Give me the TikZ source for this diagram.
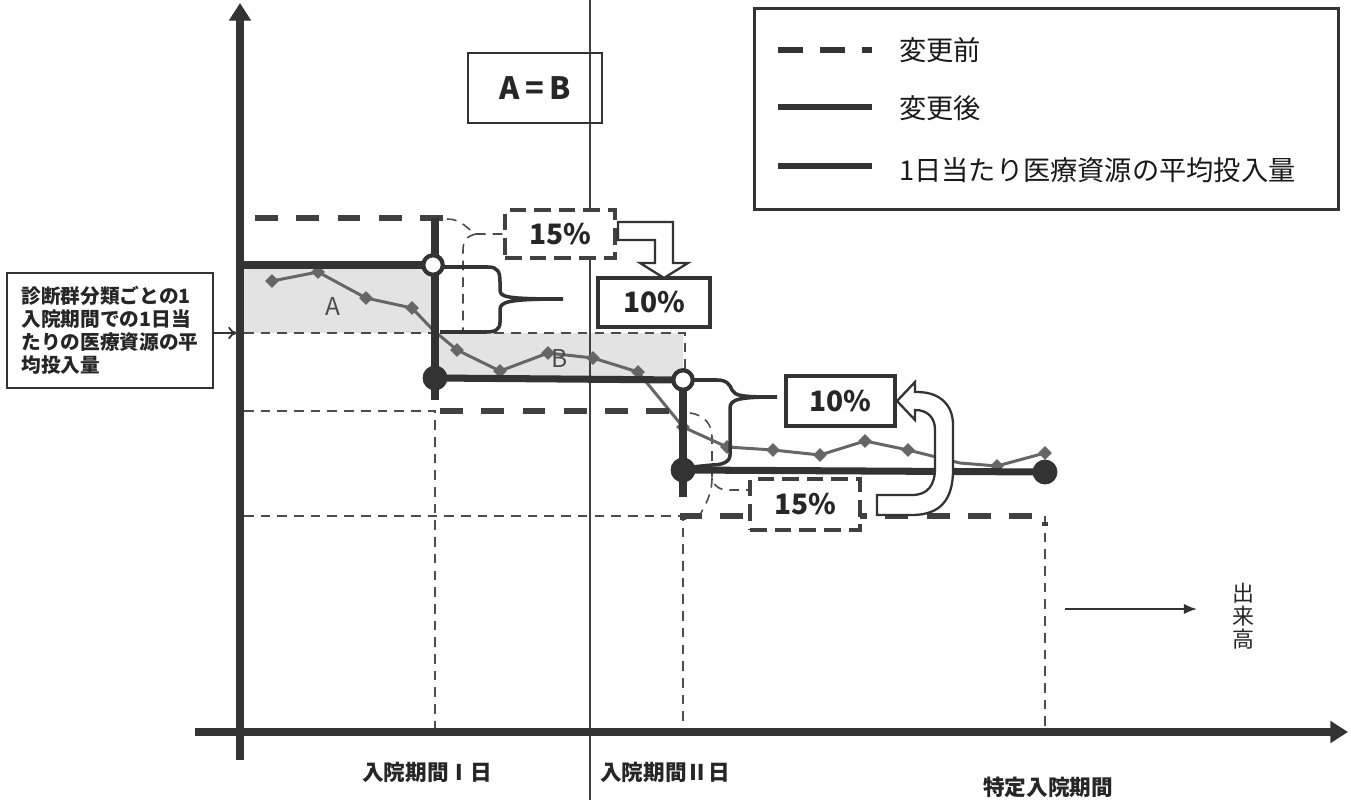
\documentclass[tikz,border=0pt]{standalone}
\usepackage{fontspec}
\setmainfont{Noto Sans CJK JP}
\usetikzlibrary{arrows.meta,shapes.geometric}
\begin{document}
\begin{tikzpicture}[x=0.02cm,y=-0.02cm,
  axisline/.style={line width=4pt,draw=black!80,-{Triangle[length=10pt,width=12pt]}},
  afterln/.style={line width=4pt,draw=black!80},
  beforeln/.style={line width=3pt,draw=black!75,dash pattern=on 13pt off 10.5pt},
  guideln/.style={line width=0.9pt,draw=black!70,dash pattern=on 5.5pt off 4pt},
  avgln/.style={line width=1.7pt,draw=black!60},
  dmd/.style={diamond,fill=black!60,inner sep=0pt,minimum size=8pt},
  ocirc/.style={circle,draw=black!80,line width=2.3pt,fill=white,inner sep=0pt,minimum size=11pt},
  fcirc/.style={circle,fill=black!80,inner sep=0pt,minimum size=14pt},
  bracel/.style={line width=2pt,draw=black!80},
  pctbox/.style={draw=black!80,line width=2.3pt,fill=white,inner sep=0pt,font=\bfseries\fontsize{16}{18}\selectfont,text=black!85},
  pctdash/.style={draw=black!75,line width=2.3pt,fill=white,inner sep=0pt,dash pattern=on 9.5pt off 4.5pt,font=\bfseries\fontsize{16}{18}\selectfont,text=black!85},
  hollow/.style={draw=black!80,line width=1.3pt,fill=white,line join=miter},
  leglbl/.style={anchor=west,font=\fontsize{15.5}{18}\selectfont,text=black!90},
  axlbl/.style={font=\bfseries\fontsize{12.3}{14}\selectfont,text=black!85}
]
\useasboundingbox (0,0) rectangle (1351,800);

% shaded areas
\fill[black!11] (244,267) rectangle (432,333);
\fill[black!11] (437,333) rectangle (683,376);

% thin vertical divider
\coordinate (vt) at (590,0);
\coordinate (vb) at (590,800);
\draw[line width=0.8pt,black!75] (vt) -- (vb);

% thin dashed guides
\draw[guideln] (244,333) -- (685,333) -- (685,370);
\draw[guideln] (244,411) -- (435,411) -- (435,730);
\draw[guideln] (244,516) -- (683,516) -- (683,730);
\draw[guideln] (1045,516) -- (1045,730);
% thin dashed brackets to 15% boxes
\draw[guideln] (447,219) .. controls (462,219) and (468,230) .. (476,234) -- (505,234);
\draw[guideln] (476,234) .. controls (466,236) and (463,242) .. (463,250) -- (463,330);
\draw[guideln] (690,413) .. controls (705,415) and (712,425) .. (712,437) -- (712,476) .. controls (712,484) and (718,490) .. (728,490) -- (750,490);
\draw[guideln] (712,478) .. controls (712,495) and (705,505) .. (700,515);

% axes
\coordinate (yb) at (240,760);
\coordinate (yt) at (240,3);
\draw[axisline] (yb) -- (yt);
\coordinate (xl) at (195,732);
\coordinate (xr) at (1348,732);
\draw[axisline] (xl) -- (xr);

% average line
\foreach \n/\x/\y in {1/272/281,2/318/272,3/366/298,4/412/308,5/433/330,6/457/350,7/500/371,8/548/353,9/593/358,10/638/372,11/683/427,12/727/447,13/773/450,14/820/455,15/865/441,16/908/450,17/960/463,18/997/466,19/1045/453}
  \coordinate (a\n) at (\x,\y);
\draw[avgln] (a1) -- (a2) -- (a3) -- (a4) -- (a5) -- (a6) -- (a7) -- (a8) -- (a9) -- (a10) -- (a11) -- (a12) -- (a13) -- (a14) -- (a15) -- (a16) -- (a17) -- (a18) -- (a19);
\foreach \n in {1,2,3,4,6,7,8,9,10,11,12,13,14,15,16,18,19}
  \node[dmd] (m\n) at (a\n) {};

% before-change (dashed thick)
\draw[beforeln] (255,218) -- (444,218);
\draw[beforeln] (440,411) -- (681,411);
\draw[beforeln] (683,520) -- (683,516) -- (1045,516) -- (1045,526);

% after-change (solid thick)
\node[ocirc] (oc1) at (433,265) {};
\node[fcirc] (fc1) at (435,378) {};
\node[ocirc] (oc2) at (683,380) {};
\node[fcirc] (fc2) at (683,470) {};
\node[fcirc] (fc3) at (1045,472) {};
\coordinate (y0) at (240,265);
\coordinate (v1t) at (435,218);
\coordinate (v1b) at (435,400);
\coordinate (v2b) at (683,497);
\draw[afterln] (y0) -- (oc1.center);
\draw[afterln] (v1t) -- (v1b);
\draw[afterln] (fc1.center) -- (oc2.center);
\draw[afterln] (oc2.center) -- (v2b);
\draw[afterln] (fc2.center) -- (fc3.center);
\node[ocirc] at (oc1) {};
\node[fcirc] at (fc1) {};
\node[ocirc] at (oc2) {};
\node[fcirc] at (fc2) {};
\node[fcirc] at (fc3) {};

% braces
\draw[bracel] (444,267) -- (488,267) .. controls (498,267) and (500,272) .. (500,282) -- (500,290) .. controls (500,297) and (506,299) .. (563,299) .. controls (506,299) and (500,302) .. (500,310) -- (500,322) .. controls (500,330) and (495,332) .. (485,332) -- (440,332);
\draw[bracel] (694,380) -- (717,380) .. controls (727,380) and (730,385) .. (732,390) .. controls (735,396) and (742,397) .. (777,397) .. controls (740,397) and (730,399) .. (730,408) -- (730,455) .. controls (730,462) and (722,465) .. (712,465) -- (692,467);

% percentage boxes
\node[pctdash,minimum width=62.4pt,minimum height=27.2pt] (p15a) at (560,234) {15\%};
\node[pctbox,minimum width=63.5pt,minimum height=27.8pt] (p10a) at (654,302.5) {10\%};
\node[pctbox,minimum width=61.8pt,minimum height=28.3pt] (p10b) at (840.5,401) {10\%};
\node[pctdash,minimum width=62.4pt,minimum height=28.9pt] (p15b) at (805,504.5) {15\%};

% hollow arrows
\draw[hollow] (618,222) -- (673,222) -- (673,263) -- (688,263) -- (664,278) -- (640,263) -- (655,263) -- (655,240) -- (618,240) -- cycle;
\draw[hollow] (877,515) -- (912,515) .. controls (940,515) and (953,500) .. (953,470) -- (953,425) .. controls (953,405) and (940,392) .. (917,392) -- (915,392) -- (915,382) -- (897,401) -- (915,420) -- (915,410) .. controls (928,410) and (935,418) .. (935,430) -- (935,468) .. controls (935,485) and (928,495) .. (912,495) -- (877,495) -- cycle;

% area labels
\node[font=\fontsize{14}{16}\selectfont,text=black!70] (lA) at (333,306) {A};
\node[font=\fontsize{14}{16}\selectfont,text=black!70] (lB) at (560,358) {B};

% A=B box
\node[draw=black!80,line width=1.2pt,minimum width=76pt,minimum height=39.7pt,inner sep=0pt,font=\bfseries\fontsize{17.5}{20}\selectfont,text=black!85] (ab) at (535,88) {A\hspace{3pt}=\hspace{3pt}B};

% legend
\node[draw=black!80,line width=1.7pt,minimum width=332.8pt,minimum height=114.5pt,inner sep=0pt] (leg) at (1046.5,109) {};
\coordinate (g1a) at (778,50); \coordinate (g1b) at (872,50);
\coordinate (g2a) at (778,107); \coordinate (g2b) at (872,107);
\coordinate (g3a) at (778,166); \coordinate (g3b) at (872,166);
\draw[line width=3pt,black!80,dash pattern=on 14.3pt off 9.5pt] (g1a) -- (g1b);
\draw[line width=3pt,black!80] (g2a) -- (g2b);
\draw[line width=3pt,black!80] (g3a) -- (g3b);
\node[leglbl] (t1) at (893,50) {変更前};
\node[leglbl] (t2) at (893,108) {変更後};
\node[leglbl] (t3) at (893,170) {1日当たり医療資源の平均投入量};

% left label box
\node[draw=black!80,line width=1.2pt,minimum width=116.8pt,minimum height=65pt,inner sep=0pt,align=left,font=\bfseries\fontsize{11.2}{13}\selectfont,text=black!85] (lbl) at (110,330.5) {診断群分類ごとの1\\入院期間での1日当\\たりの医療資源の平\\均投入量};
\coordinate (ya) at (237,333);
\draw[line width=1pt,black!80,-{To[length=5pt,width=7pt]}] (lbl.east |- ya) -- (ya);

% axis labels
\node[axlbl] (l1) at (427,772) {入院期間Ⅰ日};
\node[axlbl] (l2) at (665,772) {入院期間Ⅱ日};
\node[axlbl] (l3) at (1048,787) {特定入院期間};

% volume arrow
\coordinate (ds) at (1065,609);
\coordinate (de) at (1197,609);
\draw[line width=1.3pt,black!80,-{Latex[length=7.5pt,width=6pt]}] (ds) -- (de);
\node[align=center,font=\fontsize{12.5}{13}\selectfont,text=black!85] (dk) at (1243,616) {出\\来\\高};
\end{tikzpicture}
\end{document}
